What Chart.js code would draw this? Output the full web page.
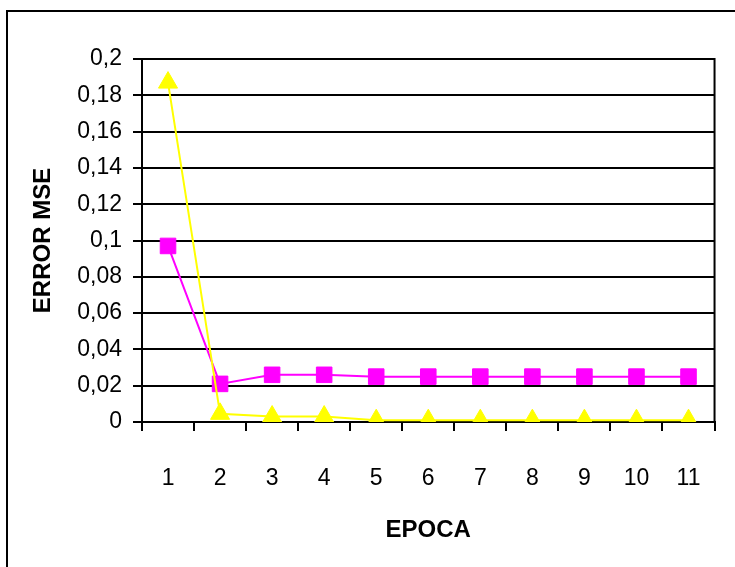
<!DOCTYPE html>
<html>
<head>
<meta charset="utf-8">
<script src="https://cdn.jsdelivr.net/npm/chart.js@4"></script>
<style>
  html, body { margin: 0; padding: 0; background: #fff; }
  #wrap { width: 735px; height: 567px; }
</style>
</head>
<body>
<div id="wrap"><canvas id="mseChart" width="735" height="567"></canvas></div>
<script>
/* ============================
   TRAINING ERROR PER EPOCH
   ============================ */

const epocas = ["1", "2", "3", "4", "5", "6", "7", "8", "9", "10", "11"];

const errorMagenta = [0.097, 0.021, 0.026, 0.026, 0.025, 0.025, 0.025, 0.025, 0.025, 0.025, 0.025];

const errorAmarillo = [0.187, 0.0045, 0.003, 0.003, 0.001, 0.001, 0.001, 0.001, 0.001, 0.001, 0.001];

const yMin = 0;
const yMax = 0.2;
const yStep = 0.02;

/* ============================
   FRAME PLUGIN (outer box + plot box)
   ============================ */

const framePlugin = {
  id: "frame",
  beforeDraw(chart) {
    const c = chart.ctx;
    c.save();
    c.fillStyle = "#fff";
    c.fillRect(0, 0, chart.width, chart.height);
    c.strokeStyle = "#000";
    c.lineWidth = 2;
    c.strokeRect(7, 11, 800, 700);
    c.restore();
  },
  afterDatasetsDraw(chart) {
    const a = chart.chartArea;
    const c = chart.ctx;
    c.save();
    c.strokeStyle = "#000";
    c.lineWidth = 2;
    c.beginPath();
    c.moveTo(a.left, a.top);
    c.lineTo(a.right, a.top);
    c.lineTo(a.right, a.bottom);
    c.stroke();
    c.restore();
  }
};

/* ============================
   CHART SETUP
   ============================ */

const tickFont = { family: "'Liberation Sans', Arial, sans-serif", size: 23 };
const titleFont = { family: "'Liberation Sans', Arial, sans-serif", size: 24, weight: "bold" };

const ctx = document.getElementById("mseChart").getContext("2d");

const chart = new Chart(ctx, {
  type: "line",
  data: {
    labels: epocas,
    datasets: [
      {
        label: "Serie 2",
        data: errorAmarillo,
        borderColor: "#ffff00",
        backgroundColor: "#ffff00",
        borderWidth: 2,
        pointStyle: "triangle",
        pointRadius: 11,
        pointBorderColor: "#ffff00",
        pointBackgroundColor: "#ffff00",
        pointBorderWidth: 1,
        tension: 0,
        order: 0
      },
      {
        label: "Serie 1",
        data: errorMagenta,
        borderColor: "#ff00ff",
        backgroundColor: "#ff00ff",
        borderWidth: 2,
        pointStyle: "rect",
        pointRadius: 11,
        pointBorderColor: "#ff00ff",
        pointBackgroundColor: "#ff00ff",
        pointBorderWidth: 1,
        tension: 0,
        order: 1
      }
    ]
  },
  options: {
    responsive: false,
    animation: false,
    layout: {
      padding: { left: 0, top: 59, right: 7, bottom: 0 }
    },
    plugins: {
      legend: { display: false },
      tooltip: { enabled: false }
    },
    scales: {
      x: {
        offset: true,
        grid: {
          offset: true,
          drawOnChartArea: false,
          drawTicks: true,
          tickLength: 9,
          color: "#000",
          lineWidth: 2
        },
        border: { display: true, color: "#000", width: 2 },
        ticks: {
          color: "#000",
          font: tickFont,
          padding: 34,
          maxRotation: 0,
          autoSkip: false
        },
        title: {
          display: true,
          text: "EPOCA",
          color: "#000",
          font: titleFont,
          padding: { top: 0, bottom: 22 }
        },
        afterFit(scale) {
          scale.height = 145;
        }
      },
      y: {
        min: yMin,
        max: yMax,
        grid: {
          color: "#000",
          lineWidth: 2,
          drawTicks: true,
          tickLength: 9
        },
        border: { display: true, color: "#000", width: 2 },
        ticks: {
          stepSize: yStep,
          color: "#000",
          font: tickFont,
          padding: 11,
          callback: v => String(+v.toFixed(2)).replace(".", ",")
        },
        title: {
          display: true,
          text: "ERROR MSE",
          color: "#000",
          font: titleFont,
          padding: { top: 29, bottom: 0 }
        },
        afterFit(scale) {
          scale.width = 142;
        }
      }
    }
  },
  plugins: [framePlugin]
});
</script>
</body>
</html>
